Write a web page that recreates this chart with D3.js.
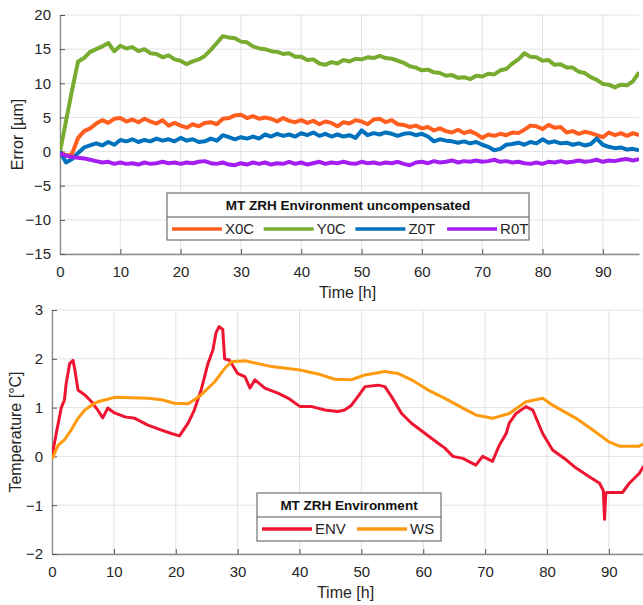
<!DOCTYPE html>
<html>
<head>
<meta charset="utf-8">
<script src="https://cdn.jsdelivr.net/npm/d3@7"></script>
<style>
  body { margin: 0; background: #fff; }
  svg { display: block; font-family: "Liberation Sans", Arial, sans-serif; }
</style>
</head>
<body>
<svg id="chart" width="643" height="605"></svg>
<script>
// ---- data ----
const hours = d3.range(0, 97); // 0..96 h, hourly samples for the error plot

const x0c = [0,-0.6,-0.3,2.0,3.0,3.4,4.1,4.6,4.2,4.8,4.9,4.4,4.7,4.3,4.8,4.4,4.1,4.6,3.8,4.2,
  3.8,3.5,4.0,3.7,4.2,4.3,4.0,4.8,4.9,5.3,5.4,4.9,5.2,4.8,5.0,4.8,4.4,4.9,4.5,4.3,
  4.6,4.2,4.5,4.0,4.4,4.2,3.7,4.3,4.1,4.6,4.4,4.0,4.7,4.8,4.3,4.6,4.0,3.9,3.6,3.8,
  3.4,3.6,3.1,3.4,3.0,2.8,3.2,2.7,3.0,2.6,2.0,2.5,2.3,2.6,2.4,2.8,2.7,3.2,3.8,3.7,
  3.3,3.9,3.5,3.6,2.8,3.0,2.6,2.9,2.7,2.4,2.1,2.8,2.4,2.7,2.3,2.7,2.4];
const y0c = [0,4.5,9.0,13.2,13.7,14.6,15.0,15.4,15.9,14.7,15.5,15.1,15.3,14.7,15.0,14.4,14.3,13.8,14.1,13.5,
  13.3,12.8,13.2,13.5,14.0,14.9,15.9,16.9,16.7,16.6,16.1,16.0,15.4,15.1,15.0,14.7,14.6,14.3,14.4,13.9,
  13.9,13.4,13.5,12.9,12.7,13.1,12.9,13.4,13.2,13.6,13.5,13.8,13.7,14.0,13.7,13.6,13.3,13.0,12.5,12.3,
  11.9,12.0,11.6,11.5,11.1,11.2,10.8,10.9,10.6,11.1,11.0,11.4,11.3,11.9,12.1,12.9,13.5,14.4,13.9,13.8,
  13.3,13.4,12.7,12.8,12.3,12.3,11.7,11.5,10.9,10.5,9.9,9.8,9.4,9.8,9.7,10.3,11.6];
const z0t = [0,-1.6,-1.1,-0.2,0.6,0.9,1.2,0.9,1.4,1.0,1.7,1.5,1.8,1.4,1.7,1.5,1.9,1.6,1.8,1.5,
  2.0,1.6,1.8,1.4,1.5,1.9,1.6,2.4,2.1,1.8,2.1,1.9,2.2,1.9,2.5,2.2,2.6,2.3,2.5,2.2,
  2.7,2.4,2.8,2.3,2.6,2.2,2.5,2.2,2.4,2.0,3.1,2.4,2.7,2.5,2.8,2.6,2.3,2.6,2.7,2.4,
  2.6,2.2,1.5,1.8,1.6,1.5,1.3,1.5,1.2,1.4,1.0,0.7,0.2,0.4,1.0,1.1,1.3,1.0,1.4,1.2,
  1.8,1.3,1.5,1.2,1.3,1.0,1.2,0.9,1.1,1.9,1.0,0.7,0.5,0.6,0.3,0.4,0.2];
const r0t = [-0.3,-0.6,-0.8,-0.9,-1.0,-1.2,-1.4,-1.6,-1.5,-1.8,-1.6,-1.8,-1.7,-1.9,-1.6,-1.8,-1.7,-1.5,-1.7,-1.6,
  -1.8,-1.6,-1.7,-1.5,-1.4,-1.7,-1.8,-1.6,-1.9,-2.0,-1.7,-1.9,-1.6,-1.8,-1.6,-1.9,-1.7,-1.8,-1.5,-1.8,
  -1.6,-1.9,-1.7,-1.5,-1.8,-1.6,-1.7,-1.5,-1.7,-1.8,-1.5,-1.7,-1.6,-1.8,-1.6,-1.7,-1.5,-1.8,-2.0,-1.6,
  -1.5,-1.7,-1.4,-1.6,-1.5,-1.3,-1.6,-1.4,-1.5,-1.3,-1.5,-1.4,-1.2,-1.5,-1.4,-1.6,-1.5,-1.7,-1.8,-1.6,
  -1.8,-1.5,-1.6,-1.4,-1.6,-1.5,-1.3,-1.5,-1.4,-1.2,-1.5,-1.3,-1.4,-1.2,-1.1,-1.3,-1.1];

const envTime = [0,0.7,1.5,2.0,2.3,2.85,3.4,3.7,4.2,5.3,6.4,7.4,8.2,9.0,10.1,11.8,13.4,15.5,17.7,19.3,
  20.6,22,23,24.1,25.2,26,26.5,27,27.6,27.9,28.7,30,31.2,32,32.8,34.4,36.6,38.2,40.1,42,
  44.1,46.2,47.3,48.4,49.4,50.6,52.7,53.8,54.9,56.5,58.1,60.3,62.4,63.5,64.8,66.4,68.5,69.6,71.2,72.3,
  73.4,73.9,75,76.6,77.7,79.3,80.9,83.1,84.7,86.9,88.5,89.1,89.3,89.5,89.8,92.2,93.3,94.9,95.6];
const envTemp = [0,0.48,1.0,1.15,1.5,1.9,1.97,1.77,1.36,1.26,1.12,0.95,0.79,0.99,0.89,0.81,0.78,0.64,0.54,0.47,
  0.42,0.68,0.95,1.36,1.9,2.18,2.53,2.66,2.6,2.0,1.97,1.7,1.63,1.4,1.57,1.4,1.29,1.19,1.02,1.02,
  0.95,0.92,0.95,1.05,1.22,1.43,1.46,1.43,1.22,0.88,0.68,0.47,0.27,0.17,0,-0.04,-0.18,0.0,-0.1,0.23,
  0.47,0.68,0.88,1.02,0.95,0.47,0.13,-0.07,-0.24,-0.42,-0.55,-0.7,-1.29,-0.75,-0.74,-0.74,-0.55,-0.35,-0.2];
const wsTime = [0,1,2,3.1,4.2,5.3,6.4,7.4,9,10.1,15.5,17.7,19.8,22,23,24.1,26.3,27.9,29,31.2,
  35.5,40.1,43,45.7,48.4,50.6,53.8,55.9,58.1,60.8,63.5,66.4,68.5,71.2,73.9,76.6,79.3,80.9,84.7,87.4,
  90,91.7,94.9,95.6];
const wsTemp = [-0.05,0.23,0.34,0.54,0.78,0.95,1.05,1.12,1.17,1.21,1.19,1.16,1.09,1.08,1.16,1.26,1.53,1.8,1.94,1.96,
  1.84,1.77,1.69,1.58,1.57,1.67,1.74,1.7,1.57,1.36,1.19,0.99,0.85,0.78,0.88,1.12,1.19,1.05,0.78,0.54,
  0.3,0.21,0.21,0.26];

const xTicks = [0,10,20,30,40,50,60,70,80,90];
const errTicks = [-15,-10,-5,0,5,10,15,20];
const tempTicks = [-2,-1,0,1,2,3];

const errSeries = [
  { name: "X0C", values: x0c, color: "#FF5E1F" },
  { name: "Y0C", values: y0c, color: "#77AC30" },
  { name: "Z0T", values: z0t, color: "#0072BD" },
  { name: "R0T", values: r0t, color: "#A41EF2" }
];
const tempSeries = [
  { name: "ENV", t: envTime, values: envTemp, color: "#EE1531" },
  { name: "WS", t: wsTime, values: wsTemp, color: "#FF9A0E" }
];

const svg = d3.select("#chart");

function drawPanel(cfg) {
  const { left, right, top, bottom, yDomain, yTicks, yLabel, id } = cfg;
  const x = d3.scaleLinear().domain([0, 96]).range([left, right]);
  const y = d3.scaleLinear().domain(yDomain).range([bottom, top]);
  const g = svg.append("g");

  // grid
  g.append("g").selectAll("line.gx").data(xTicks).join("line")
    .attr("x1", d => x(d)).attr("x2", d => x(d)).attr("y1", top).attr("y2", bottom)
    .attr("stroke", "#e3e3e3").attr("stroke-width", 1);
  g.append("g").selectAll("line.gy").data(yTicks).join("line")
    .attr("x1", left).attr("x2", right).attr("y1", d => y(d)).attr("y2", d => y(d))
    .attr("stroke", "#e3e3e3").attr("stroke-width", 1);

  g.append("clipPath").attr("id", id)
    .append("rect").attr("x", left).attr("y", top - 10).attr("width", right - left).attr("height", bottom - top + 20);

  // axes (MATLAB style: ticks inward)
  const fmt = d3.format("d");
  const xAxis = d3.axisBottom(x).tickValues(xTicks).tickFormat(fmt).tickSizeInner(-5).tickSizeOuter(0).tickPadding(12);
  const yAxis = d3.axisLeft(y).tickValues(yTicks).tickFormat(fmt).tickSizeInner(-5).tickSizeOuter(0).tickPadding(9);
  const gx = g.append("g").attr("transform", `translate(0,${bottom})`).call(xAxis);
  const gy = g.append("g").attr("transform", `translate(${left},0)`).call(yAxis);
  [gx, gy].forEach(a => {
    a.select(".domain").attr("stroke", "#8a8a8a").attr("stroke-width", 1.3);
    a.selectAll(".tick line").attr("stroke", "#555");
    a.selectAll(".tick text").attr("fill", "#262626").attr("font-size", 15)
      .attr("font-family", "Liberation Sans, Arial, sans-serif");
  });

  g.append("text").attr("x", (left + Math.min(right, 643)) / 2 - 2).attr("y", bottom + 44)
    .attr("text-anchor", "middle").attr("font-size", 16).attr("fill", "#262626").text("Time [h]");
  g.append("text").attr("transform", `translate(${cfg.labelX},${(top + bottom) / 2}) rotate(-90)`)
    .attr("text-anchor", "middle").attr("font-size", 16).attr("fill", "#262626").text(yLabel);

  return { x, y, g };
}

// ---- top panel: error ----
const p1 = drawPanel({ left: 60, right: 639, top: 15, bottom: 254, yDomain: [-15, 20],
  yTicks: errTicks, yLabel: "Error [µm]", id: "clipTop", labelX: 23 });
const line1 = d3.line().x((d, i) => p1.x(hours[i])).y(d => p1.y(d));
p1.g.append("g").attr("clip-path", "url(#clipTop)")
  .selectAll("path").data(errSeries).join("path")
  .attr("d", d => line1(d.values))
  .attr("fill", "none").attr("stroke", d => d.color)
  .attr("stroke-width", 4).attr("stroke-linejoin", "round");

// ---- bottom panel: temperature ----
const p2 = drawPanel({ left: 52, right: 646, top: 310, bottom: 554, yDomain: [-2, 3],
  yTicks: tempTicks, yLabel: "Temperature [°C]", id: "clipBot", labelX: 21 });
p2.g.append("g").attr("clip-path", "url(#clipBot)")
  .selectAll("path").data(tempSeries).join("path")
  .attr("d", s => d3.line().x((d, i) => p2.x(s.t[i])).y(d => p2.y(d))(s.values))
  .attr("fill", "none").attr("stroke", s => s.color)
  .attr("stroke-width", 3).attr("stroke-linejoin", "round");

// ---- legends ----
function legend(box, title, items) {
  const g = svg.append("g");
  g.append("rect").attr("x", box.x).attr("y", box.y).attr("width", box.w).attr("height", box.h)
    .attr("fill", "#fff").attr("stroke", "#555").attr("stroke-width", 1);
  g.append("line").attr("x1", box.x).attr("x2", box.x + box.w)
    .attr("y1", box.y + box.div).attr("y2", box.y + box.div).attr("stroke", "#555");
  g.append("text").attr("x", box.x + box.w / 2).attr("y", box.y + 17)
    .attr("text-anchor", "middle").attr("font-size", 13.5).attr("font-weight", "bold")
    .attr("fill", "#111").text(title);
  items.forEach((it, i) => {
    const x0 = box.x + 5 + i * box.step;
    const yy = box.y + box.div + 12;
    g.append("line").attr("x1", x0).attr("x2", x0 + 50).attr("y1", yy).attr("y2", yy)
      .attr("stroke", it.color).attr("stroke-width", 3.5);
    g.append("text").attr("x", x0 + 53).attr("y", yy + 5).attr("font-size", 15)
      .attr("fill", "#262626").text(it.name);
  });
}
legend({ x: 167, y: 193, w: 362, h: 47, div: 24, step: 91.7 }, "MT ZRH Environment uncompensated", errSeries);
legend({ x: 257, y: 493, w: 184, h: 48, div: 24, step: 95 }, "MT ZRH Environment", tempSeries);
</script>
</body>
</html>
